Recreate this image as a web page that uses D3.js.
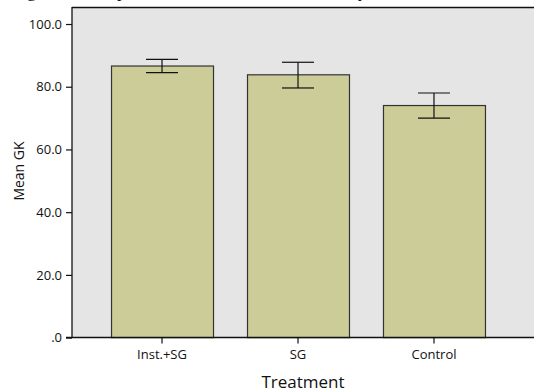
<!DOCTYPE html>
<html>
<head>
<meta charset="utf-8">
<script src="https://cdn.jsdelivr.net/npm/d3@7"></script>
<style>
	body { margin: 0; background: #fff; }
	svg { display: block; }
	text { font-family: "Open Sans", "Noto Sans", sans-serif; fill: #111; }
</style>
</head>
<body>
<div id="contents"></div>
<script>
var categories = ["Inst.+SG", "SG", "Control"];
var means = [86.6, 83.8, 74.0];
var errLow = [84.5, 79.6, 70.0];
var errHigh = [88.7, 87.8, 78.0];
var yTicks = [0, 20, 40, 60, 80, 100];

var W = 534, H = 392;
var plot = { left: 72, top: 7, bottom: 337.6, right: 534 };

var svg = d3.select("#contents")
	.append("svg")
	.attr("width", W)
	.attr("height", H);

// title, mostly cut off at the top like in the source image
svg.append("text")
	.attr("x", 12)
	.attr("y", -3)
	.style("font-family", "'Liberation Serif', serif")
	.style("font-size", "18px")
	.text("Figure 3: Comparison of the Mean GK Scores by Treatment");

var x = d3.scaleBand()
	.domain(categories)
	.range([plot.left, 524])
	.paddingInner(0.25)
	.paddingOuter(0.287);

var y = d3.scaleLinear()
	.domain([0, 100])
	.range([plot.bottom, 24]);

// plot background
svg.append("rect")
	.attr("x", plot.left)
	.attr("y", plot.top)
	.attr("width", plot.right - plot.left)
	.attr("height", plot.bottom - plot.top)
	.attr("fill", "#e5e5e5");

svg.append("line")
	.attr("x1", plot.left).attr("x2", plot.right)
	.attr("y1", plot.top + 0.5).attr("y2", plot.top + 0.5)
	.attr("stroke", "#111").attr("stroke-width", 1.3);

var data = categories.map(function(c, i) {
	return { cat: c, mean: means[i], lo: errLow[i], hi: errHigh[i] };
});

svg.selectAll("rect.bar")
	.data(data)
	.enter()
	.append("rect")
	.attr("class", "bar")
	.attr("x", function(d) { return x(d.cat) + 0.5; })
	.attr("y", function(d) { return y(d.mean); })
	.attr("width", x.bandwidth())
	.attr("height", function(d) { return y(0) - y(d.mean); })
	.attr("fill", "#cccc99")
	.attr("stroke", "#333")
	.attr("stroke-width", 1.2);

// error bars
var eb = svg.selectAll("g.err")
	.data(data)
	.enter()
	.append("g")
	.attr("class", "err")
	.attr("stroke", "#111")
	.attr("stroke-width", 1.2);

eb.append("line")
	.attr("x1", function(d) { return x(d.cat) + x.bandwidth() / 2; })
	.attr("x2", function(d) { return x(d.cat) + x.bandwidth() / 2; })
	.attr("y1", function(d) { return y(d.hi); })
	.attr("y2", function(d) { return y(d.lo); });

[ "hi", "lo" ].forEach(function(k) {
	eb.append("line")
		.attr("x1", function(d) { return x(d.cat) + x.bandwidth() / 2 - 16; })
		.attr("x2", function(d) { return x(d.cat) + x.bandwidth() / 2 + 16; })
		.attr("y1", function(d) { return y(d[k]); })
		.attr("y2", function(d) { return y(d[k]); });
});

// y axis
var yAxis = svg.append("g")
	.attr("transform", "translate(" + plot.left + ",0)")
	.call(d3.axisLeft(y)
		.tickValues(yTicks)
		.tickSize(6)
		.tickPadding(4)
		.tickFormat(function(d) { return d == 0 ? ".0" : d3.format(".1f")(d); }));
yAxis.select(".domain").remove();
yAxis.append("line")
	.attr("x1", 0).attr("x2", 0)
	.attr("y1", plot.top).attr("y2", plot.bottom)
	.attr("stroke", "#111").attr("stroke-width", 1.3);
yAxis.selectAll(".tick line").attr("stroke", "#111").attr("stroke-width", 1.2);
yAxis.selectAll(".tick text")
	.style("font-size", "13px")
	.attr("fill", "#111");

// x axis
var xAxis = svg.append("g")
	.attr("transform", "translate(0," + plot.bottom + ")")
	.call(d3.axisBottom(x).tickSize(6).tickPadding(6));
xAxis.select(".domain").remove();
xAxis.append("line")
	.attr("x1", plot.left - 6).attr("x2", plot.right)
	.attr("y1", 0).attr("y2", 0)
	.attr("stroke", "#111").attr("stroke-width", 1.5);
xAxis.selectAll(".tick line").attr("stroke", "#111").attr("stroke-width", 1.2);
xAxis.selectAll(".tick text")
	.style("font-size", "13px")
	.attr("fill", "#111");

// axis titles
svg.append("text")
	.attr("x", 303)
	.attr("y", 388)
	.attr("text-anchor", "middle")
	.style("font-size", "17px")
	.text("Treatment");

svg.append("text")
	.attr("transform", "translate(24,171) rotate(-90)")
	.attr("text-anchor", "middle")
	.style("font-size", "14px")
	.text("Mean GK");
</script>
</body>
</html>
